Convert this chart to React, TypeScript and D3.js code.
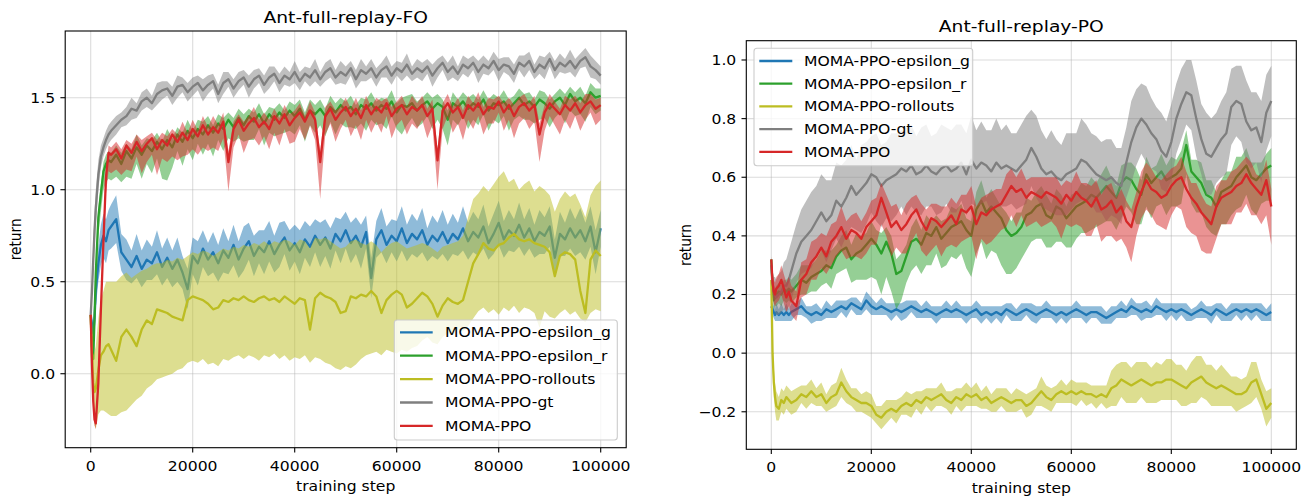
import React from 'react';
import * as d3 from 'd3';

// training steps (x grid)
const STEPS: number[] = [0, 250, 500, 750, 1000, 1500, 2000, 2500, 3000, 3500, 4000, ...d3.range(5000, 100001, 1000)];

const SERIES_NAMES = ['MOMA-PPO-epsilon_g', 'MOMA-PPO-epsilon_r', 'MOMA-PPO-rollouts', 'MOMA-PPO-gt', 'MOMA-PPO'];
const COLORS = ['#1f77b4', '#2ca02c', '#bcbd22', '#7f7f7f', '#d62728'];
const X_TICKS = [0, 20000, 40000, 60000, 80000, 100000];
const FO_Y_TICKS = [0.0, 0.5, 1.0, 1.5];
const PO_Y_TICKS = [-0.2, 0.0, 0.2, 0.4, 0.6, 0.8, 1.0];

// ---------------- Ant-full-replay-FO ----------------
const FO_EPSG_MEAN = [
  0.32, 0.27, 0.22, 0.3, 0.45, 0.6, 0.7, 0.75, 0.72, 0.78, 0.8,
  0.84, 0.66, 0.62, 0.58, 0.64, 0.57, 0.62, 0.6, 0.66, 0.58,
  0.63, 0.57, 0.62, 0.55, 0.46, 0.64, 0.6, 0.68, 0.62, 0.66,
  0.6, 0.67, 0.63, 0.7, 0.62, 0.68, 0.72, 0.64, 0.69, 0.66,
  0.72, 0.65, 0.7, 0.74, 0.67, 0.71, 0.66, 0.73, 0.69, 0.75,
  0.7, 0.74, 0.68, 0.76, 0.72, 0.78, 0.71, 0.75, 0.69, 0.77,
  0.52, 0.73, 0.78, 0.7, 0.75, 0.72, 0.79, 0.71, 0.76, 0.73,
  0.78, 0.7, 0.75, 0.72, 0.77, 0.71, 0.76, 0.73, 0.79, 0.72,
  0.77, 0.74, 0.8, 0.71, 0.76, 0.82, 0.73, 0.78, 0.75, 0.81,
  0.74, 0.79, 0.72, 0.77, 0.75, 0.8, 0.63, 0.76, 0.73, 0.79,
  0.74, 0.78, 0.72, 0.8, 0.66, 0.79,
];
const FO_EPSG_SP = [
  0.01, 0.03, 0.05, 0.07, 0.09, 0.1, 0.11, 0.12, 0.12, 0.11, 0.12,
  0.13, 0.1, 0.11, 0.09, 0.12, 0.1, 0.11, 0.09, 0.12, 0.1,
  0.11, 0.1, 0.12, 0.09, 0.11, 0.1, 0.12, 0.1, 0.09, 0.11,
  0.1, 0.12, 0.09, 0.11, 0.1, 0.12, 0.1, 0.11, 0.09, 0.12,
  0.11, 0.1, 0.12, 0.09, 0.11, 0.1, 0.12, 0.1, 0.11, 0.09,
  0.12, 0.1, 0.11, 0.09, 0.12, 0.1, 0.11, 0.1, 0.12, 0.09,
  0.11, 0.1, 0.12, 0.1, 0.09, 0.11, 0.12, 0.1, 0.11, 0.1,
  0.12, 0.09, 0.11, 0.1, 0.12, 0.1, 0.11, 0.09, 0.12, 0.1,
  0.11, 0.1, 0.12, 0.09, 0.11, 0.12, 0.1, 0.11, 0.09, 0.12,
  0.1, 0.11, 0.09, 0.12, 0.1, 0.11, 0.1, 0.12, 0.09, 0.11,
  0.1, 0.12, 0.1, 0.11, 0.12, 0.1,
];
const FO_EPSR_MEAN = [
  0.32, 0.15, 0.08, 0.3, 0.55, 0.85, 0.98, 1.1, 1.14, 1.16, 1.15,
  1.19, 1.14, 1.21, 1.17, 1.23, 1.19, 1.24, 1.21, 1.26, 1.22,
  1.27, 1.23, 1.3, 1.26, 1.32, 1.28, 1.33, 1.3, 1.35, 1.31,
  1.36, 1.33, 1.38, 1.34, 1.39, 1.35, 1.4, 1.37, 1.41, 1.36,
  1.41, 1.38, 1.42, 1.39, 1.43, 1.4, 1.44, 1.38, 1.43, 1.41,
  1.44, 1.4, 1.45, 1.42, 1.46, 1.43, 1.45, 1.41, 1.46, 1.44,
  1.47, 1.43, 1.46, 1.44, 1.48, 1.42, 1.46, 1.45, 1.47, 1.43,
  1.46, 1.48, 1.44, 1.47, 1.45, 1.38, 1.47, 1.45, 1.48, 1.44,
  1.47, 1.45, 1.49, 1.43, 1.47, 1.46, 1.48, 1.44, 1.47, 1.5,
  1.46, 1.48, 1.45, 1.49, 1.47, 1.44, 1.48, 1.5, 1.46, 1.52,
  1.48, 1.5, 1.47, 1.53, 1.5, 1.51,
];
const FO_EPSR_DN = [
  0.01, 0.03, 0.04, 0.06, 0.08, 0.1, 0.1, 0.1, 0.1, 0.1, 0.1,
  0.12, 0.1, 0.14, 0.11, 0.09, 0.13, 0.1, 0.12, 0.09, 0.16,
  0.22, 0.11, 0.09, 0.13, 0.1, 0.12, 0.08, 0.11, 0.1, 0.13,
  0.09, 0.12, 0.1, 0.08, 0.11, 0.09, 0.13, 0.1, 0.08, 0.12,
  0.1, 0.09, 0.12, 0.08, 0.11, 0.1, 0.09, 0.12, 0.08, 0.1,
  0.09, 0.11, 0.08, 0.12, 0.1, 0.09, 0.11, 0.08, 0.1, 0.12,
  0.09, 0.08, 0.1, 0.11, 0.08, 0.09, 0.16, 0.1, 0.08, 0.09,
  0.1, 0.08, 0.11, 0.09, 0.12, 0.14, 0.09, 0.1, 0.08, 0.11,
  0.09, 0.1, 0.08, 0.11, 0.09, 0.1, 0.08, 0.12, 0.09, 0.1,
  0.08, 0.1, 0.09, 0.11, 0.08, 0.1, 0.09, 0.08, 0.1, 0.09,
  0.08, 0.09, 0.1, 0.08, 0.09, 0.08,
];
const FO_EPSR_UP = [
  0.01, 0.02, 0.03, 0.04, 0.05, 0.05, 0.05, 0.05, 0.05, 0.05, 0.05,
  0.05, 0.06, 0.04, 0.05, 0.07, 0.05, 0.04, 0.06, 0.05, 0.04,
  0.06, 0.05, 0.04, 0.05, 0.06, 0.04, 0.05, 0.07, 0.05, 0.04,
  0.05, 0.06, 0.04, 0.05, 0.05, 0.06, 0.04, 0.05, 0.06, 0.05,
  0.04, 0.06, 0.05, 0.04, 0.05, 0.06, 0.05, 0.04, 0.06, 0.05,
  0.05, 0.04, 0.06, 0.05, 0.04, 0.05, 0.06, 0.05, 0.04, 0.05,
  0.06, 0.05, 0.04, 0.05, 0.06, 0.05, 0.04, 0.06, 0.05, 0.05,
  0.04, 0.05, 0.06, 0.05, 0.04, 0.05, 0.06, 0.04, 0.05, 0.06,
  0.05, 0.04, 0.05, 0.06, 0.05, 0.04, 0.06, 0.05, 0.04, 0.05,
  0.06, 0.05, 0.04, 0.05, 0.06, 0.05, 0.04, 0.05, 0.06, 0.04,
  0.05, 0.06, 0.04, 0.05, 0.05, 0.04,
];
const FO_ROLL_MEAN = [
  0.32, 0.1, -0.05, -0.1, -0.08, 0.02, 0.1, 0.12, 0.15, 0.16, 0.13,
  0.07, 0.2, 0.24, 0.2, 0.15, 0.24, 0.29, 0.27, 0.35, 0.34,
  0.33, 0.31, 0.3, 0.29, 0.4, 0.42, 0.41, 0.4, 0.38, 0.35,
  0.36, 0.4, 0.39, 0.41, 0.4, 0.42, 0.4, 0.39, 0.41, 0.42,
  0.4, 0.41, 0.39, 0.42, 0.4, 0.38, 0.41, 0.4, 0.24, 0.41,
  0.44, 0.42, 0.41, 0.39, 0.33, 0.34, 0.42, 0.41, 0.43, 0.42,
  0.45, 0.42, 0.33, 0.4, 0.43, 0.45, 0.43, 0.36, 0.38, 0.41,
  0.44, 0.42, 0.38, 0.31, 0.37, 0.41, 0.39, 0.38, 0.4, 0.5,
  0.6, 0.65, 0.71, 0.68, 0.67, 0.7, 0.71, 0.74, 0.76, 0.73,
  0.72, 0.73, 0.71, 0.7, 0.69, 0.66, 0.53, 0.64, 0.66, 0.65,
  0.62, 0.45, 0.33, 0.62, 0.67, 0.64,
];
const FO_ROLL_LO = [
  0.3, 0.0, -0.2, -0.28, -0.3, -0.22, -0.2, -0.2, -0.21, -0.22, -0.23,
  -0.23, -0.21, -0.2, -0.17, -0.14, -0.12, -0.08, -0.06, -0.03, -0.02,
  -0.01, 0.0, 0.02, 0.03, 0.06, 0.07, 0.06, 0.08, 0.05, 0.06,
  0.04, 0.08, 0.07, 0.09, 0.1, 0.08, 0.1, 0.09, 0.07, 0.1,
  0.09, 0.11, 0.08, 0.1, 0.07, 0.09, 0.08, 0.1, 0.06, 0.09,
  0.08, 0.06, 0.05, 0.03, 0.02, 0.04, 0.03, 0.05, 0.08, 0.1,
  0.11, 0.12, 0.1, 0.13, 0.12, 0.11, 0.13, 0.12, 0.14, 0.15,
  0.18, 0.2, 0.17, 0.16, 0.2, 0.22, 0.21, 0.24, 0.23, 0.26,
  0.3, 0.34, 0.36, 0.33, 0.35, 0.32, 0.36, 0.34, 0.37, 0.33,
  0.36, 0.35, 0.33, 0.25, 0.34, 0.31, 0.3, 0.33, 0.35, 0.32,
  0.34, 0.3, 0.28, 0.33, 0.35, 0.34,
];
const FO_ROLL_HI = [
  0.34, 0.2, 0.1, 0.12, 0.15, 0.3, 0.4, 0.45, 0.5, 0.5, 0.5,
  0.5, 0.53, 0.55, 0.52, 0.54, 0.56, 0.57, 0.59, 0.6, 0.6,
  0.62, 0.61, 0.63, 0.62, 0.64, 0.66, 0.65, 0.67, 0.66, 0.64,
  0.66, 0.68, 0.67, 0.69, 0.68, 0.7, 0.69, 0.71, 0.7, 0.72,
  0.7, 0.72, 0.71, 0.73, 0.72, 0.7, 0.73, 0.72, 0.68, 0.74,
  0.73, 0.74, 0.72, 0.7, 0.68, 0.69, 0.72, 0.73, 0.71, 0.7,
  0.72, 0.7, 0.66, 0.69, 0.71, 0.72, 0.7, 0.68, 0.69, 0.7,
  0.71, 0.7, 0.68, 0.66, 0.69, 0.7, 0.71, 0.72, 0.75, 0.85,
  0.95, 0.98, 1.02, 0.99, 1.03, 1.07, 1.1, 1.04, 1.06, 1.0,
  1.03, 1.05, 0.99, 1.02, 1.0, 0.97, 0.88, 0.95, 0.99, 0.96,
  0.98, 0.92, 0.85, 0.97, 1.02, 1.05,
];
const FO_GT_MEAN = [
  0.32, 0.45, 0.62, 0.78, 0.9, 1.08, 1.18, 1.23, 1.27, 1.3, 1.32,
  1.35, 1.38, 1.4, 1.44, 1.43, 1.48, 1.5, 1.47, 1.52, 1.54,
  1.55, 1.51, 1.56, 1.57, 1.53, 1.56, 1.58, 1.54, 1.57, 1.59,
  1.52, 1.58, 1.6, 1.55, 1.59, 1.61, 1.56, 1.6, 1.62, 1.57,
  1.61, 1.63, 1.58, 1.62, 1.6, 1.64, 1.59, 1.63, 1.61, 1.65,
  1.6, 1.64, 1.66, 1.61, 1.64, 1.62, 1.66, 1.6, 1.65, 1.63,
  1.66, 1.61, 1.65, 1.67, 1.62, 1.66, 1.64, 1.68, 1.63, 1.66,
  1.64, 1.67, 1.62, 1.66, 1.69, 1.64, 1.67, 1.63, 1.68, 1.66,
  1.69, 1.64, 1.68, 1.66, 1.7, 1.65, 1.68, 1.67, 1.63, 1.69,
  1.67, 1.7, 1.64, 1.68, 1.66, 1.71, 1.65, 1.69, 1.67, 1.7,
  1.66, 1.7, 1.72, 1.67, 1.65, 1.62,
];
const FO_GT_SP = [
  0.01, 0.05, 0.08, 0.1, 0.1, 0.08, 0.06, 0.05, 0.05, 0.05, 0.05,
  0.05, 0.04, 0.05, 0.06, 0.04, 0.05, 0.05, 0.04, 0.06, 0.05,
  0.04, 0.05, 0.06, 0.04, 0.05, 0.05, 0.04, 0.06, 0.05, 0.04,
  0.05, 0.06, 0.04, 0.05, 0.05, 0.04, 0.06, 0.05, 0.04, 0.05,
  0.06, 0.04, 0.05, 0.05, 0.04, 0.06, 0.05, 0.04, 0.05, 0.06,
  0.04, 0.05, 0.05, 0.04, 0.06, 0.05, 0.04, 0.05, 0.06, 0.04,
  0.05, 0.05, 0.04, 0.06, 0.05, 0.04, 0.05, 0.06, 0.04, 0.05,
  0.05, 0.04, 0.06, 0.05, 0.04, 0.05, 0.06, 0.04, 0.05, 0.05,
  0.04, 0.06, 0.05, 0.04, 0.05, 0.06, 0.04, 0.05, 0.05, 0.04,
  0.06, 0.05, 0.04, 0.05, 0.06, 0.04, 0.05, 0.05, 0.04, 0.06,
  0.05, 0.04, 0.05, 0.06, 0.05, 0.05,
];
const FO_PPO_MEAN = [
  0.32, 0.05, -0.15, -0.25, -0.27, -0.05, 0.35, 0.72, 1.07, 1.2, 1.19,
  1.22, 1.17, 1.24, 1.2, 1.26, 1.21, 1.25, 1.28, 1.22, 1.27,
  1.24, 1.3, 1.26, 1.31, 1.27, 1.33, 1.29, 1.35, 1.3, 1.34,
  1.31, 1.37, 1.15, 1.33, 1.38, 1.32, 1.36, 1.39, 1.34, 1.37,
  1.33, 1.4, 1.36, 1.41, 1.35, 1.39, 1.42, 1.37, 1.43, 1.38,
  1.15, 1.4, 1.44, 1.38, 1.42, 1.45, 1.4, 1.44, 1.39, 1.46,
  1.41, 1.45, 1.42, 1.47, 1.4, 1.44, 1.46, 1.41, 1.45, 1.43,
  1.46, 1.4, 1.44, 1.16, 1.43, 1.47, 1.42, 1.45, 1.39, 1.46,
  1.43, 1.47, 1.41, 1.45, 1.44, 1.48, 1.42, 1.46, 1.4, 1.45,
  1.47, 1.43, 1.46, 1.3, 1.42, 1.47, 1.44, 1.41, 1.46, 1.43,
  1.47, 1.42, 1.46, 1.48, 1.44, 1.46,
];
const FO_PPO_DN = [
  0.01, 0.02, 0.03, 0.03, 0.03, 0.04, 0.05, 0.07, 0.09, 0.1, 0.1,
  0.11, 0.09, 0.13, 0.1, 0.08, 0.12, 0.1, 0.09, 0.14, 0.1,
  0.09, 0.12, 0.1, 0.13, 0.08, 0.11, 0.1, 0.12, 0.09, 0.11,
  0.1, 0.09, 0.16, 0.1, 0.08, 0.12, 0.09, 0.11, 0.1, 0.08,
  0.11, 0.09, 0.12, 0.08, 0.1, 0.13, 0.09, 0.1, 0.08, 0.11,
  0.2, 0.1, 0.08, 0.12, 0.09, 0.07, 0.11, 0.09, 0.12, 0.08,
  0.1, 0.08, 0.11, 0.07, 0.12, 0.09, 0.08, 0.11, 0.09, 0.1,
  0.08, 0.12, 0.09, 0.16, 0.1, 0.07, 0.11, 0.09, 0.12, 0.08,
  0.1, 0.07, 0.11, 0.09, 0.08, 0.06, 0.1, 0.08, 0.12, 0.09,
  0.08, 0.1, 0.09, 0.15, 0.1, 0.07, 0.09, 0.11, 0.08, 0.1,
  0.07, 0.1, 0.08, 0.06, 0.09, 0.08,
];
const FO_PPO_UP = [
  0.01, 0.02, 0.02, 0.02, 0.02, 0.03, 0.03, 0.03, 0.04, 0.04, 0.04,
  0.04, 0.05, 0.03, 0.05, 0.04, 0.06, 0.04, 0.03, 0.05, 0.04,
  0.05, 0.03, 0.04, 0.06, 0.04, 0.05, 0.03, 0.05, 0.04, 0.06,
  0.04, 0.05, 0.06, 0.04, 0.03, 0.05, 0.04, 0.06, 0.04, 0.05,
  0.05, 0.04, 0.03, 0.05, 0.06, 0.04, 0.05, 0.03, 0.05, 0.04,
  0.06, 0.05, 0.04, 0.05, 0.03, 0.05, 0.04, 0.06, 0.04, 0.05,
  0.04, 0.05, 0.06, 0.03, 0.05, 0.04, 0.05, 0.04, 0.06, 0.04,
  0.05, 0.04, 0.05, 0.06, 0.04, 0.05, 0.03, 0.05, 0.04, 0.05,
  0.04, 0.06, 0.04, 0.05, 0.05, 0.03, 0.05, 0.04, 0.06, 0.05,
  0.05, 0.04, 0.05, 0.06, 0.04, 0.05, 0.04, 0.03, 0.05, 0.06,
  0.04, 0.05, 0.06, 0.04, 0.05, 0.04,
];

// ---------------- Ant-full-replay-PO ----------------
const PO_EPSG_MEAN = [
  0.16, 0.15, 0.14, 0.13, 0.14, 0.13, 0.14, 0.13, 0.14, 0.13, 0.14,
  0.15, 0.16, 0.14, 0.13, 0.14, 0.13, 0.15, 0.14, 0.15, 0.16,
  0.15, 0.17, 0.16, 0.15, 0.18, 0.16, 0.15, 0.16, 0.15, 0.14,
  0.15, 0.14, 0.15, 0.16, 0.15, 0.14, 0.15, 0.14, 0.13, 0.14,
  0.15, 0.14, 0.15, 0.14, 0.13, 0.14, 0.15, 0.13, 0.14, 0.13,
  0.14, 0.13, 0.15, 0.14, 0.13, 0.14, 0.15, 0.14, 0.13, 0.14,
  0.15, 0.14, 0.13, 0.14, 0.13, 0.14, 0.15, 0.14, 0.13, 0.14,
  0.14, 0.13, 0.12, 0.13, 0.14, 0.15, 0.14, 0.16, 0.15, 0.14,
  0.15, 0.14, 0.16, 0.15, 0.14, 0.15, 0.14, 0.15, 0.14, 0.13,
  0.14, 0.15, 0.14, 0.13, 0.15, 0.14, 0.13, 0.14, 0.15, 0.14,
  0.15, 0.14, 0.15, 0.14, 0.13, 0.14,
];
const PO_EPSG_SP = [
  0.01, 0.02, 0.02, 0.02, 0.03, 0.02, 0.03, 0.02, 0.03, 0.02, 0.03,
  0.02, 0.03, 0.02, 0.03, 0.03, 0.02, 0.03, 0.02, 0.03, 0.02,
  0.03, 0.02, 0.03, 0.02, 0.03, 0.03, 0.02, 0.03, 0.02, 0.03,
  0.02, 0.03, 0.03, 0.02, 0.03, 0.02, 0.03, 0.02, 0.03, 0.02,
  0.03, 0.02, 0.03, 0.02, 0.03, 0.02, 0.03, 0.03, 0.02, 0.03,
  0.02, 0.03, 0.02, 0.03, 0.02, 0.03, 0.02, 0.03, 0.03, 0.02,
  0.03, 0.02, 0.03, 0.02, 0.03, 0.02, 0.03, 0.02, 0.03, 0.02,
  0.02, 0.03, 0.02, 0.03, 0.02, 0.03, 0.02, 0.03, 0.02, 0.03,
  0.03, 0.02, 0.03, 0.02, 0.03, 0.02, 0.03, 0.02, 0.03, 0.02,
  0.02, 0.03, 0.02, 0.03, 0.02, 0.03, 0.02, 0.03, 0.02, 0.03,
  0.02, 0.03, 0.02, 0.03, 0.02, 0.03,
];
const PO_EPSR_MEAN = [
  0.32, 0.22, 0.18, 0.19, 0.2, 0.21, 0.2, 0.22, 0.21, 0.22, 0.21,
  0.23, 0.25, 0.24, 0.26, 0.27, 0.28, 0.3, 0.29, 0.33, 0.35,
  0.36, 0.32, 0.34, 0.35, 0.37, 0.39, 0.37, 0.34, 0.38, 0.34,
  0.27, 0.28, 0.33, 0.38, 0.39, 0.37, 0.41, 0.4, 0.43, 0.39,
  0.41, 0.43, 0.44, 0.45, 0.42, 0.4, 0.49, 0.52, 0.48, 0.5,
  0.48, 0.46, 0.42, 0.4, 0.41, 0.43, 0.47, 0.48, 0.5, 0.51,
  0.47, 0.46, 0.5, 0.49, 0.46, 0.48, 0.5, 0.51, 0.52, 0.54,
  0.53, 0.55, 0.57, 0.55, 0.53, 0.58, 0.6, 0.59, 0.56, 0.54,
  0.61, 0.58, 0.6, 0.62, 0.59, 0.6, 0.61, 0.63, 0.71, 0.62,
  0.6, 0.58, 0.54, 0.53, 0.5, 0.55, 0.56, 0.57, 0.6, 0.62,
  0.64, 0.6, 0.59, 0.61, 0.63, 0.64,
];
const PO_EPSR_DN = [
  0.01, 0.02, 0.03, 0.03, 0.04, 0.04, 0.04, 0.04, 0.04, 0.04, 0.04,
  0.04, 0.05, 0.04, 0.05, 0.06, 0.05, 0.06, 0.07, 0.06, 0.07,
  0.07, 0.08, 0.09, 0.1, 0.12, 0.13, 0.12, 0.14, 0.12, 0.13,
  0.12, 0.1, 0.09, 0.1, 0.09, 0.1, 0.11, 0.1, 0.09, 0.1,
  0.11, 0.1, 0.12, 0.11, 0.13, 0.14, 0.15, 0.14, 0.16, 0.15,
  0.14, 0.16, 0.15, 0.13, 0.12, 0.11, 0.12, 0.1, 0.11, 0.12,
  0.11, 0.1, 0.12, 0.11, 0.1, 0.12, 0.11, 0.1, 0.11, 0.12,
  0.1, 0.11, 0.12, 0.1, 0.11, 0.12, 0.1, 0.11, 0.12, 0.1,
  0.11, 0.12, 0.1, 0.11, 0.12, 0.1, 0.11, 0.12, 0.1, 0.11,
  0.12, 0.1, 0.11, 0.12, 0.1, 0.11, 0.12, 0.1, 0.11, 0.12,
  0.1, 0.11, 0.12, 0.1, 0.11, 0.12,
];
const PO_EPSR_UP = [
  0.01, 0.02, 0.02, 0.03, 0.03, 0.03, 0.03, 0.03, 0.04, 0.04, 0.04,
  0.04, 0.05, 0.06, 0.04, 0.05, 0.07, 0.05, 0.06, 0.04, 0.05,
  0.06, 0.05, 0.07, 0.05, 0.04, 0.06, 0.05, 0.07, 0.05, 0.06,
  0.05, 0.06, 0.04, 0.05, 0.07, 0.05, 0.06, 0.05, 0.04, 0.06,
  0.05, 0.07, 0.05, 0.06, 0.04, 0.05, 0.06, 0.07, 0.05, 0.06,
  0.05, 0.04, 0.06, 0.05, 0.07, 0.05, 0.06, 0.04, 0.05, 0.06,
  0.07, 0.05, 0.06, 0.05, 0.04, 0.06, 0.05, 0.07, 0.05, 0.06,
  0.05, 0.06, 0.07, 0.05, 0.04, 0.06, 0.05, 0.06, 0.07, 0.05,
  0.06, 0.05, 0.04, 0.06, 0.05, 0.07, 0.05, 0.06, 0.05, 0.04,
  0.06, 0.07, 0.05, 0.06, 0.05, 0.04, 0.06, 0.05, 0.07, 0.05,
  0.06, 0.05, 0.06, 0.04, 0.05, 0.06,
];
const PO_ROLL_MEAN = [
  0.25, 0.0, -0.1, -0.15, -0.18, -0.19, -0.16, -0.17, -0.15, -0.16, -0.17,
  -0.16, -0.14, -0.15, -0.13, -0.15, -0.14, -0.17, -0.15, -0.14, -0.1,
  -0.13, -0.15, -0.16, -0.17, -0.17, -0.18, -0.21, -0.22, -0.2, -0.19,
  -0.2, -0.18, -0.17, -0.18, -0.16, -0.17, -0.15, -0.16, -0.15, -0.14,
  -0.16, -0.17, -0.15, -0.16, -0.14, -0.15, -0.14, -0.16, -0.15, -0.17,
  -0.16, -0.15, -0.16, -0.17, -0.16, -0.16, -0.18, -0.17, -0.15, -0.13,
  -0.15, -0.16, -0.14, -0.13, -0.14, -0.13, -0.14, -0.13, -0.14, -0.14,
  -0.15, -0.14, -0.15, -0.12, -0.11, -0.09, -0.1, -0.11, -0.1, -0.09,
  -0.1, -0.11, -0.1, -0.1, -0.09, -0.09, -0.1, -0.11, -0.12, -0.1,
  -0.09, -0.08, -0.1, -0.11, -0.12, -0.11, -0.12, -0.13, -0.14, -0.14,
  -0.13, -0.1, -0.09, -0.14, -0.19, -0.17,
];
const PO_ROLL_SP = [
  0.01, 0.04, 0.05, 0.05, 0.05, 0.04, 0.04, 0.04, 0.04, 0.04, 0.04,
  0.04, 0.03, 0.04, 0.04, 0.03, 0.04, 0.03, 0.04, 0.04, 0.05,
  0.04, 0.03, 0.04, 0.03, 0.04, 0.04, 0.03, 0.04, 0.04, 0.03,
  0.04, 0.03, 0.04, 0.04, 0.03, 0.04, 0.03, 0.04, 0.03, 0.04,
  0.03, 0.04, 0.03, 0.04, 0.04, 0.03, 0.04, 0.03, 0.04, 0.03,
  0.04, 0.03, 0.04, 0.03, 0.04, 0.03, 0.04, 0.04, 0.03, 0.05,
  0.04, 0.04, 0.03, 0.04, 0.03, 0.04, 0.04, 0.03, 0.04, 0.03,
  0.04, 0.03, 0.04, 0.06, 0.07, 0.06, 0.07, 0.06, 0.07, 0.06,
  0.07, 0.06, 0.07, 0.06, 0.07, 0.07, 0.06, 0.07, 0.06, 0.07,
  0.08, 0.07, 0.06, 0.07, 0.06, 0.07, 0.06, 0.05, 0.06, 0.05,
  0.05, 0.07, 0.06, 0.05, 0.06, 0.05,
];
const PO_GT_MEAN = [
  0.3, 0.24, 0.21, 0.2, 0.19, 0.2, 0.21, 0.23, 0.23, 0.25, 0.28,
  0.34, 0.38, 0.4, 0.42, 0.45, 0.48, 0.45, 0.47, 0.52, 0.5,
  0.53, 0.57, 0.54, 0.56, 0.58, 0.61, 0.6, 0.57, 0.59, 0.6,
  0.61, 0.63, 0.62, 0.64, 0.61, 0.62, 0.64, 0.62, 0.61, 0.63,
  0.64, 0.62, 0.63, 0.65, 0.61, 0.66, 0.63, 0.65, 0.64, 0.62,
  0.65, 0.63, 0.64, 0.63, 0.62, 0.64, 0.66, 0.7, 0.67, 0.63,
  0.61, 0.62, 0.6, 0.59, 0.61, 0.62, 0.63, 0.66, 0.65, 0.63,
  0.61, 0.6, 0.59, 0.6, 0.58, 0.57, 0.65, 0.72, 0.77, 0.8,
  0.78, 0.75, 0.73, 0.69, 0.67, 0.72, 0.8, 0.85, 0.89, 0.88,
  0.8, 0.73, 0.68, 0.67, 0.7, 0.73, 0.75, 0.84, 0.86, 0.85,
  0.79, 0.76, 0.77, 0.72, 0.82, 0.86,
];
const PO_GT_SP = [
  0.02, 0.04, 0.05, 0.06, 0.06, 0.07, 0.07, 0.08, 0.09, 0.1, 0.1,
  0.1, 0.11, 0.12, 0.13, 0.12, 0.13, 0.14, 0.12, 0.13, 0.14,
  0.13, 0.14, 0.12, 0.15, 0.14, 0.13, 0.15, 0.14, 0.13, 0.15,
  0.14, 0.13, 0.15, 0.14, 0.13, 0.15, 0.14, 0.12, 0.14, 0.15,
  0.13, 0.14, 0.15, 0.13, 0.14, 0.15, 0.13, 0.14, 0.12, 0.14,
  0.15, 0.13, 0.14, 0.12, 0.13, 0.14, 0.15, 0.13, 0.14, 0.13,
  0.12, 0.14, 0.13, 0.12, 0.14, 0.13, 0.12, 0.14, 0.13, 0.12,
  0.13, 0.12, 0.14, 0.13, 0.12, 0.13, 0.12, 0.14, 0.13, 0.12,
  0.13, 0.12, 0.11, 0.13, 0.12, 0.13, 0.12, 0.12, 0.11, 0.12,
  0.13, 0.12, 0.14, 0.13, 0.12, 0.13, 0.14, 0.13, 0.12, 0.13,
  0.14, 0.13, 0.12, 0.14, 0.13, 0.12,
];
const PO_PPO_MEAN = [
  0.32, 0.24, 0.21, 0.2, 0.22, 0.23, 0.25, 0.22, 0.19, 0.21, 0.18,
  0.16, 0.25, 0.27, 0.31, 0.33, 0.36, 0.33, 0.38, 0.4, 0.43,
  0.39, 0.42, 0.41, 0.39, 0.43, 0.45, 0.47, 0.53, 0.48, 0.43,
  0.45, 0.42, 0.44, 0.47, 0.49, 0.45, 0.42, 0.46, 0.45, 0.43,
  0.45, 0.47, 0.44, 0.49, 0.48, 0.5, 0.44, 0.48, 0.47, 0.49,
  0.5, 0.51, 0.54, 0.57, 0.55, 0.56, 0.53, 0.55, 0.54, 0.53,
  0.55, 0.54, 0.53, 0.51, 0.54, 0.52, 0.55, 0.53, 0.52, 0.5,
  0.53, 0.49, 0.5, 0.52, 0.48, 0.5, 0.45, 0.43, 0.5, 0.55,
  0.59, 0.56, 0.55, 0.53, 0.54, 0.57, 0.59, 0.6, 0.56, 0.53,
  0.51, 0.48, 0.46, 0.44, 0.5, 0.53, 0.54, 0.55, 0.57, 0.58,
  0.61, 0.58, 0.56, 0.54, 0.59, 0.5,
];
const PO_PPO_DN = [
  0.01, 0.03, 0.04, 0.04, 0.05, 0.05, 0.05, 0.05, 0.05, 0.05, 0.05,
  0.05, 0.06, 0.07, 0.06, 0.08, 0.07, 0.06, 0.08, 0.07, 0.08,
  0.07, 0.09, 0.08, 0.07, 0.09, 0.08, 0.1, 0.09, 0.08, 0.1,
  0.09, 0.08, 0.1, 0.09, 0.08, 0.1, 0.09, 0.11, 0.08, 0.1,
  0.09, 0.1, 0.08, 0.11, 0.09, 0.1, 0.12, 0.09, 0.1, 0.11,
  0.1, 0.09, 0.11, 0.1, 0.12, 0.09, 0.1, 0.11, 0.09, 0.1,
  0.11, 0.09, 0.1, 0.12, 0.1, 0.09, 0.11, 0.1, 0.12, 0.1,
  0.09, 0.11, 0.1, 0.12, 0.1, 0.11, 0.09, 0.12, 0.1, 0.09,
  0.1, 0.09, 0.11, 0.1, 0.12, 0.1, 0.09, 0.11, 0.13, 0.12,
  0.11, 0.13, 0.12, 0.1, 0.11, 0.09, 0.1, 0.11, 0.09, 0.1,
  0.1, 0.11, 0.09, 0.1, 0.12, 0.13,
];
const PO_PPO_UP = [
  0.01, 0.03, 0.04, 0.04, 0.04, 0.04, 0.05, 0.05, 0.05, 0.05, 0.05,
  0.05, 0.06, 0.05, 0.07, 0.06, 0.05, 0.07, 0.06, 0.05, 0.07,
  0.06, 0.05, 0.07, 0.06, 0.05, 0.07, 0.06, 0.05, 0.06, 0.07,
  0.06, 0.05, 0.07, 0.06, 0.05, 0.06, 0.07, 0.05, 0.06, 0.07,
  0.05, 0.06, 0.07, 0.05, 0.06, 0.07, 0.06, 0.05, 0.07, 0.06,
  0.06, 0.05, 0.07, 0.06, 0.05, 0.07, 0.06, 0.05, 0.06, 0.07,
  0.05, 0.06, 0.07, 0.06, 0.05, 0.06, 0.07, 0.05, 0.06, 0.07,
  0.06, 0.05, 0.07, 0.06, 0.05, 0.06, 0.07, 0.06, 0.05, 0.07,
  0.06, 0.07, 0.05, 0.06, 0.07, 0.06, 0.05, 0.07, 0.06, 0.05,
  0.07, 0.06, 0.05, 0.06, 0.07, 0.06, 0.05, 0.07, 0.06, 0.07,
  0.06, 0.07, 0.05, 0.06, 0.07, 0.06,
];

type Band = { mean: number[]; lo: number[]; hi: number[] };

function spreadBand(mean: number[], dn: number[], up: number[]): Band {
  return {
    mean,
    lo: mean.map((m, i) => m - (dn[i] ?? 0)),
    hi: mean.map((m, i) => m + (up[i] ?? 0)),
  };
}

const FO_SERIES: Band[] = [
  spreadBand(FO_EPSG_MEAN, FO_EPSG_SP, FO_EPSG_SP),
  spreadBand(FO_EPSR_MEAN, FO_EPSR_DN, FO_EPSR_UP),
  { mean: FO_ROLL_MEAN, lo: FO_ROLL_LO, hi: FO_ROLL_HI },
  spreadBand(FO_GT_MEAN, FO_GT_SP, FO_GT_SP),
  spreadBand(FO_PPO_MEAN, FO_PPO_DN, FO_PPO_UP),
];
const PO_SERIES: Band[] = [
  spreadBand(PO_EPSG_MEAN, PO_EPSG_SP, PO_EPSG_SP),
  spreadBand(PO_EPSR_MEAN, PO_EPSR_DN, PO_EPSR_UP),
  spreadBand(PO_ROLL_MEAN, PO_ROLL_SP, PO_ROLL_SP),
  spreadBand(PO_GT_MEAN, PO_GT_SP, PO_GT_SP),
  spreadBand(PO_PPO_MEAN, PO_PPO_DN, PO_PPO_UP),
];

const FONT = 'DejaVu Sans, Verdana, sans-serif';
const FS = 13.7;
const SX = 1.14; // horizontal stretch of glyphs in the reference

type PanelCfg = {
  id: string;
  title: string;
  x0: number; x1: number; y0: number; y1: number;
  yDomain: [number, number];
  yTicks: number[];
  series: Band[];
  titleY: number;
  ylabelX: number;
  tickLabelY: number;
  xlabelY: number;
  legend: { x0: number; x1: number; y0: number; y1: number; hx0: number; hx1: number; tx: number; rows: number[] };
};

function fmtY(v: number) {
  const s = Math.abs(v).toFixed(1);
  return v < 0 ? '\u2212' + s : s;
}

function T(props: { x: number; y: number; anchor?: string; size?: number; dy?: string; rotate?: boolean; children: React.ReactNode }) {
  const { x, y, anchor = 'start', size = FS, dy, rotate, children } = props;
  return (
    <text
      transform={`translate(${x},${y}) scale(${SX},1)${rotate ? ' rotate(-90)' : ''}`}
      textAnchor={anchor}
      fontSize={size}
      dy={dy}
      fill="#000"
    >
      {children}
    </text>
  );
}

function Panel({ cfg }: { cfg: PanelCfg }) {
  const x = d3.scaleLinear().domain([-5000, 105000]).range([cfg.x0, cfg.x1]);
  const y = d3.scaleLinear().domain(cfg.yDomain).range([cfg.y1, cfg.y0]);
  const cx = (cfg.x0 + cfg.x1) / 2;
  const cy = (cfg.y0 + cfg.y1) / 2;
  const L = cfg.legend;
  return (
    <g>
      <defs>
        <clipPath id={`clip-${cfg.id}`}>
          <rect x={cfg.x0} y={cfg.y0} width={cfg.x1 - cfg.x0} height={cfg.y1 - cfg.y0} />
        </clipPath>
      </defs>
      {/* grid */}
      <g stroke="#b0b0b0" strokeOpacity={0.45} strokeWidth={1.1}>
        {X_TICKS.map((t) => (
          <line key={'gx' + t} x1={x(t)} x2={x(t)} y1={cfg.y0} y2={cfg.y1} />
        ))}
        {cfg.yTicks.map((t) => (
          <line key={'gy' + t} x1={cfg.x0} x2={cfg.x1} y1={y(t)} y2={y(t)} />
        ))}
      </g>
      {/* data */}
      <g clipPath={`url(#clip-${cfg.id})`}>
        {cfg.series.map((s, k) => {
          const n = Math.min(STEPS.length, s.mean.length, s.lo.length, s.hi.length);
          const idx = d3.range(n);
          const a = d3
            .area<number>()
            .x((i) => x(STEPS[i]))
            .y0((i) => y(s.lo[i]))
            .y1((i) => y(s.hi[i]));
          const l = d3
            .line<number>()
            .x((i) => x(STEPS[i]))
            .y((i) => y(s.mean[i]));
          return (
            <g key={k}>
              <path d={a(idx) || ''} fill={COLORS[k]} fillOpacity={0.5} stroke="none" />
              <path d={l(idx) || ''} fill="none" stroke={COLORS[k]} strokeWidth={2.3} strokeLinejoin="round" />
            </g>
          );
        })}
      </g>
      {/* spines */}
      <rect x={cfg.x0} y={cfg.y0} width={cfg.x1 - cfg.x0} height={cfg.y1 - cfg.y0} fill="none" stroke="#000" strokeWidth={1.1} />
      <g fontFamily={FONT} fontSize={FS} fill="#000">
        {X_TICKS.map((t) => (
          <g key={'xt' + t}>
            <line x1={x(t)} x2={x(t)} y1={cfg.y1} y2={cfg.y1 + 4.8} stroke="#000" strokeWidth={1.1} />
            <T x={x(t)} y={cfg.tickLabelY} anchor="middle">{String(t)}</T>
          </g>
        ))}
        {cfg.yTicks.map((t) => (
          <g key={'yt' + t}>
            <line x1={cfg.x0 - 4.8} x2={cfg.x0} y1={y(t)} y2={y(t)} stroke="#000" strokeWidth={1.1} />
            <T x={cfg.x0 - 10} y={y(t)} dy="0.36em" anchor="end">{fmtY(t)}</T>
          </g>
        ))}
        <T x={cx} y={cfg.xlabelY} anchor="middle">training step</T>
        <T x={cfg.ylabelX} y={cy} anchor="middle" rotate>return</T>
        <T x={cx} y={cfg.titleY} anchor="middle" size={16.4}>{cfg.title}</T>
      </g>
      {/* legend */}
      <g fontFamily={FONT} fontSize={FS}>
        <rect x={L.x0} y={L.y0} width={L.x1 - L.x0} height={L.y1 - L.y0} rx={3} ry={3} fill="#fff" fillOpacity={0.8} stroke="#cccccc" strokeWidth={1.1} />
        {SERIES_NAMES.map((name, k) => (
          <g key={name}>
            <line x1={L.hx0} x2={L.hx1} y1={L.rows[k]} y2={L.rows[k]} stroke={COLORS[k]} strokeWidth={2.3} />
            <T x={L.tx} y={L.rows[k]} dy="0.36em">{name}</T>
          </g>
        ))}
      </g>
    </g>
  );
}

const PANELS: PanelCfg[] = [
  {
    id: 'fo',
    title: 'Ant-full-replay-FO',
    x0: 65.2, x1: 626.2, y0: 31, y1: 447.7,
    yDomain: [-0.402, 1.8625],
    yTicks: FO_Y_TICKS,
    series: FO_SERIES,
    titleY: 22.5,
    ylabelX: 20.5,
    tickLabelY: 470.5,
    xlabelY: 491,
    legend: { x0: 394.3, x1: 617.3, y0: 320, y1: 440, hx0: 400, hx1: 432.7, tx: 445, rows: [332.3, 355.7, 379.1, 402.5, 425.9] },
  },
  {
    id: 'po',
    title: 'Ant-full-replay-PO',
    x0: 746.3, x1: 1296.3, y0: 40.7, y1: 449.3,
    yDomain: [-0.328, 1.0658],
    yTicks: PO_Y_TICKS,
    series: PO_SERIES,
    titleY: 31.5,
    ylabelX: 691,
    tickLabelY: 471.8,
    xlabelY: 492.5,
    legend: { x0: 754, x1: 972.7, y0: 48.3, y1: 165.7, hx0: 759.3, hx1: 792.3, tx: 804, rows: [61, 83.7, 106.4, 129.1, 151.8] },
  },
];

export default function App() {
  return (
    <svg
      width={1309}
      height={500}
      viewBox="0 0 1309 500"
      style={{ position: 'absolute', left: 0, top: 0, display: 'block', background: '#fff' }}
    >
      <rect x={0} y={0} width={1309} height={500} fill="#fff" />
      {PANELS.map((p) => (
        <Panel key={p.id} cfg={p} />
      ))}
    </svg>
  );
}
